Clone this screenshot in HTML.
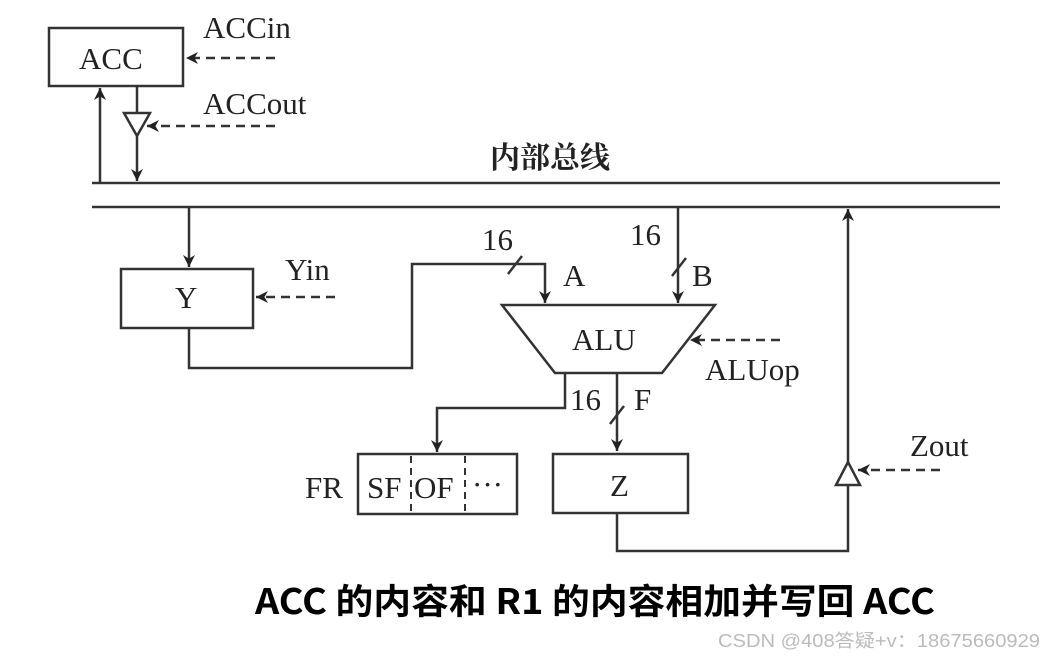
<!DOCTYPE html>
<html><head><meta charset="utf-8"><style>
html,body{margin:0;padding:0;background:#fff;}
svg{display:block}
.t{font-family:"Liberation Serif",serif;font-size:31px;fill:#222}
</style></head><body>
<svg width="1042" height="658" viewBox="0 0 1042 658" xmlns="http://www.w3.org/2000/svg">
<defs>
<marker id="ar" viewBox="0 0 10 10" refX="10" refY="5" markerWidth="18" markerHeight="12" markerUnits="userSpaceOnUse" orient="auto">
<path d="M0,0 L10,5 L0,10 L3,5 z" fill="#222"/></marker>
<marker id="ar2" viewBox="0 0 10 10" refX="10" refY="5" markerWidth="16" markerHeight="12" markerUnits="userSpaceOnUse" orient="auto">
<path d="M0,0 L10,5 L0,10 L3,5 z" fill="#222"/></marker>
</defs>
<g stroke="#333" stroke-width="2.5" fill="none">
<line x1="92" y1="183" x2="1000" y2="183"/>
<line x1="92" y1="207" x2="1000" y2="207"/>
<rect x="49" y="28" width="134" height="58" fill="#fff"/>
<line x1="100" y1="183" x2="100" y2="88" marker-end="url(#ar)"/>
<line x1="137" y1="86" x2="137" y2="113"/>
<polygon points="124,113 150,113 137,136"/>
<line x1="137" y1="136" x2="137" y2="181" marker-end="url(#ar)"/>
<line x1="275" y1="58" x2="186" y2="58" stroke-dasharray="9,6" marker-end="url(#ar2)"/>
<line x1="275" y1="126" x2="147" y2="126" stroke-dasharray="9,6" marker-end="url(#ar2)"/>
<line x1="189" y1="207" x2="189" y2="267" marker-end="url(#ar)"/>
<rect x="121" y="269" width="132" height="59" fill="#fff"/>
<line x1="335" y1="297" x2="256" y2="297" stroke-dasharray="9,6" marker-end="url(#ar2)"/>
<polyline points="189,328 189,368 412,368 412,264 545,264 545,303" marker-end="url(#ar)"/>
<line x1="508" y1="274" x2="522" y2="256"/>
<line x1="678" y1="207" x2="678" y2="303" marker-end="url(#ar)"/>
<line x1="672" y1="276" x2="686" y2="258"/>
<polygon points="502,305 715,305 662,373 555,373" fill="#fff"/>
<line x1="780" y1="340" x2="690" y2="340" stroke-dasharray="9,6" marker-end="url(#ar2)"/>
<polyline points="565,373 565,408 437,408 437,452" marker-end="url(#ar)"/>
<line x1="617" y1="373" x2="617" y2="451" marker-end="url(#ar)"/>
<line x1="610" y1="424" x2="624" y2="406"/>
<rect x="358" y="454" width="159" height="60"/>
<line x1="411" y1="456" x2="411" y2="512" stroke-dasharray="7,5" stroke-width="2"/>
<line x1="465" y1="456" x2="465" y2="512" stroke-dasharray="7,5" stroke-width="2"/>
<rect x="553" y="454" width="135" height="59"/>
<polyline points="617,513 617,551 848,551 848,485"/>
<polygon points="836,485 860,485 848,462"/>
<line x1="848" y1="462" x2="848" y2="209" marker-end="url(#ar)"/>
<line x1="940" y1="470" x2="858" y2="470" stroke-dasharray="9,6" marker-end="url(#ar2)"/>
</g>
<text class="t" x="79" y="69">ACC</text>
<text class="t" x="203" y="38">ACCin</text>
<text class="t" x="203" y="114">ACCout</text>
<text x="490" y="168" font-family="'Noto Serif CJK SC','Noto Sans CJK SC',serif" font-size="30" font-weight="bold" fill="#222">内部总线</text>
<text class="t" x="175" y="308">Y</text>
<text class="t" x="285" y="280">Yin</text>
<text class="t" x="482" y="250">16</text>
<text class="t" x="630" y="245">16</text>
<text class="t" x="563" y="286">A</text>
<text class="t" x="692" y="286">B</text>
<text class="t" x="572" y="350">ALU</text>
<text class="t" x="705" y="380">ALUop</text>
<text class="t" x="570" y="410">16</text>
<text class="t" x="634" y="410">F</text>
<text class="t" x="305" y="498">FR</text>
<text class="t" x="367" y="498">SF</text>
<text class="t" x="414" y="498">OF</text>
<text class="t" x="472" y="495">···</text>
<text class="t" x="610" y="496">Z</text>
<text class="t" x="910" y="456">Zout</text>
<text x="255" y="614" font-family="'Noto Sans CJK SC',sans-serif" font-size="35" font-weight="bold" fill="#000" textLength="680" lengthAdjust="spacingAndGlyphs">ACC 的内容和 R1 的内容相加并写回 ACC</text>
<text x="718" y="647" font-family="'Liberation Sans','Noto Sans CJK SC',sans-serif" font-size="18" fill="#bbb" textLength="322" lengthAdjust="spacingAndGlyphs">CSDN @408答疑+v：18675660929</text>
</svg>
</body></html>
